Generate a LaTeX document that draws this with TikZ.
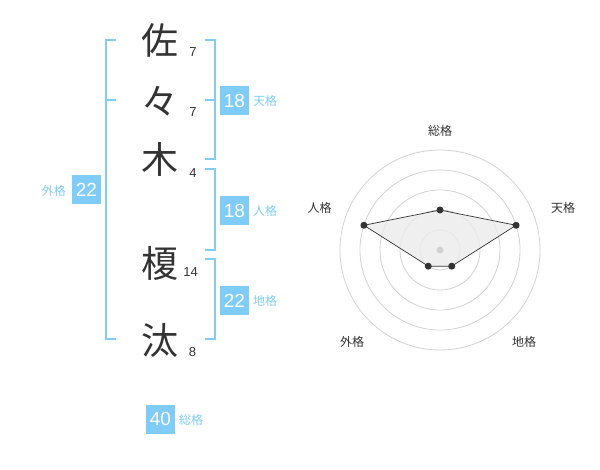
\documentclass[tikz,border=0pt]{standalone}
\usepackage{fontspec}
\setmainfont{Liberation Sans}
\newfontfamily\cjk{Noto Sans CJK JP}
\definecolor{kblue}{RGB}{128,204,248}
\definecolor{ktext}{RGB}{51,51,51}
\definecolor{kring}{RGB}{210,210,210}
\begin{document}
\begin{tikzpicture}[x=1pt,y=-1pt,
  kanji/.style={inner sep=0pt,text=ktext,font=\cjk\fontsize{37}{37}\selectfont},
  strokes/.style={inner sep=0pt,text=ktext,font=\fontsize{13}{13}\selectfont},
  bracket/.style={draw=kblue,line width=2pt},
  valbox/.style={fill=kblue,text=white,minimum width=29pt,minimum height=29pt,inner sep=0pt,font=\fontsize{19}{19}\selectfont},
  vallabel/.style={inner sep=0pt,text=kblue,font=\cjk\fontsize{12}{12}\selectfont},
  ring/.style={draw=kring,line width=0.8pt},
  axislabel/.style={inner sep=0pt,text=ktext,font=\cjk\fontsize{12}{12}\selectfont},
  dot/.style={circle,fill=ktext,inner sep=0pt,minimum size=7pt}]
\useasboundingbox (0,0) rectangle (600,470);
% characters
\node[kanji] (c1) at (160,40) {佐};
\node[kanji] (c2) at (160,101) {々};
\node[kanji] (c3) at (160,159) {木};
\node[kanji] (c4) at (160,263) {榎};
\node[kanji] (c5) at (160,340) {汰};
% stroke counts
\node[strokes] (n1) at (193,52.5) {7};
\node[strokes] (n2) at (193,112.5) {7};
\node[strokes] (n3) at (193,173) {4};
\node[strokes] (n4) at (190.5,272.5) {14};
\node[strokes] (n5) at (192.5,352) {8};
% brackets
\draw[bracket] (116,40) -- (105.5,40) -- (105.5,339.5) -- (116,339.5);
\draw[bracket] (105.5,100) -- (116,100);
\draw[bracket] (205,40) -- (215,40) -- (215,159.5) -- (205,159.5);
\draw[bracket] (205,100) -- (215,100);
\draw[bracket] (205,169.5) -- (215,169.5) -- (215,250) -- (205,250);
\draw[bracket] (205,259.5) -- (215,259.5) -- (215,339.5) -- (205,339.5);
% value boxes
\node[valbox] (ten) at (234.5,100.5) {18};
\node[vallabel,anchor=west] (tenl) at (253,101) {天格};
\node[valbox] (jin) at (234.5,210.5) {18};
\node[vallabel,anchor=west] (jinl) at (253,211) {人格};
\node[valbox] (chi) at (234.5,300.5) {22};
\node[vallabel,anchor=west] (chil) at (253,301) {地格};
\node[valbox] (gai) at (86.5,190) {22};
\node[vallabel,anchor=east] (gail) at (66,190.5) {外格};
\node[valbox] (sou) at (160.5,419) {40};
\node[vallabel,anchor=west] (soul) at (179,420) {総格};
% radar chart
\begin{scope}[shift={(440,250)}]
  \foreach \r in {20,40,60,80,100} \draw[ring] (0,0) circle[radius=\r];
  \coordinate (pS) at (-90:40);
  \coordinate (pT) at (-18:80);
  \coordinate (pC) at (54:20);
  \coordinate (pG) at (126:20);
  \coordinate (pJ) at (-162:80);
  \fill[black!8,opacity=0.8] (pS) -- (pT) -- (pC) -- (pG) -- (pJ) -- cycle;
  \draw[ktext,line width=0.7pt] (pS) -- (pT) -- (pC) -- (pG) -- (pJ) -- cycle;
  \node[circle,fill=kring,inner sep=0pt,minimum size=7pt] (ctr) at (0,0) {};
  \foreach \p in {pS,pT,pC,pG,pJ} \node[dot] at (\p) {};
\end{scope}
\node[axislabel] (lS) at (440,130.5) {総格};
\node[axislabel] (lT) at (563,208) {天格};
\node[axislabel] (lJ) at (319.5,208) {人格};
\node[axislabel] (lG) at (352,342) {外格};
\node[axislabel] (lC) at (524,342) {地格};
\end{tikzpicture}
\end{document}
